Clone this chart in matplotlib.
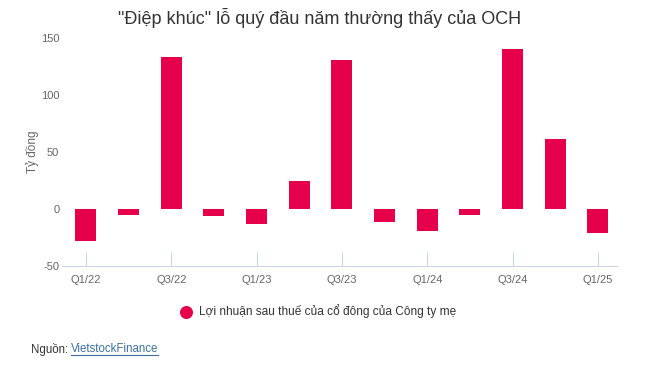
import matplotlib
matplotlib.use('Agg')
import matplotlib.pyplot as plt
import numpy as np

# Quarterly net profit attributable to parent shareholders (billion VND)
quarters = ['Q1/22', 'Q2/22', 'Q3/22', 'Q4/22',
            'Q1/23', 'Q2/23', 'Q3/23', 'Q4/23',
            'Q1/24', 'Q2/24', 'Q3/24', 'Q4/24',
            'Q1/25']
profit = [-28, -5, 133, -6, -13, 25, 131, -11, -19, -5, 140, 62, -21]

bar_color = '#e6004c'
grid_color = '#ccd6eb'

plt.rcParams['font.family'] = ['Liberation Sans', 'DejaVu Sans']
plt.rcParams['axes.unicode_minus'] = False

fig = plt.figure(figsize=(6.53, 3.69), dpi=100)
ax = fig.add_axes([0.095, 0.278, 0.85, 0.619])

x = np.arange(len(quarters))
ax.bar(x, profit, width=0.49, color=bar_color, zorder=2)

ax.set_xlim(-0.56, 12.45)
ax.set_ylim(-50, 150)
ax.set_yticks([-50, 0, 50, 100, 150])
ax.tick_params(axis='y', length=0, labelsize=8, labelcolor='#666666', pad=2)

ax.set_xticks(x[::2])
ax.set_xticklabels(quarters[::2])
ax.tick_params(axis='x', direction='in', length=10, color=grid_color,
               labelsize=8, labelcolor='#666666', pad=6)

for side in ['top', 'right', 'left']:
    ax.spines[side].set_visible(False)
ax.spines['bottom'].set_color(grid_color)

ax.set_ylabel('Tỷ đồng', fontsize=8.5, color='#666666', labelpad=1)

fig.text(0.49, 0.952, '"Điệp khúc" lỗ quý đầu năm thường thấy của OCH',
         ha='center', va='center', fontsize=13, color='#333333')

# legend
ax.scatter([], [], s=70, color=bar_color, label='Lợi nhuận sau thuế của cổ đông của Công ty mẹ')
fig.legend(loc='center', bbox_to_anchor=(0.483, 0.157), frameon=False,
           fontsize=8.6, labelcolor='#333333', handletextpad=0.05,
           markerscale=1.0)

# source line
fig.text(0.047, 0.054, 'Nguồn:', ha='left', va='center', fontsize=8.3, color='#333333')
link = fig.text(0.108, 0.054, 'VietstockFinance', ha='left', va='center',
                fontsize=8.3, color='#3d6f9e')
fig.canvas.draw()
bb = link.get_window_extent()
fig.add_artist(plt.Line2D([bb.x0 / fig.bbox.width, bb.x1 / fig.bbox.width],
                          [(bb.y0 + 0.5) / fig.bbox.height] * 2,
                          color='#3d6f9e', linewidth=0.8))

fig.savefig('out.png', dpi=100)
